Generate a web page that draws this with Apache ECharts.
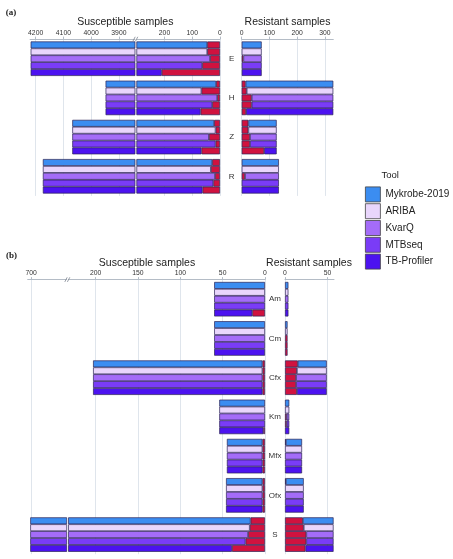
<!DOCTYPE html>
<html><head><meta charset="utf-8">
<script src="https://cdn.jsdelivr.net/npm/echarts@6/dist/echarts.min.js"></script>
<style>html,body{margin:0;padding:0;background:#fff}#c{width:453px;height:559px}</style>
</head><body><div id="c"></div>
<script>
// ---------- data ----------
const tools = ['Mykrobe-2019', 'ARIBA', 'KvarQ', 'MTBseq', 'TB-Profiler'];

const drugsA = ['E', 'H', 'Z', 'R'];
const suscTotalA = [4218, 3948, 4068, 4174];
const suscWrongA = [[46, 46, 36, 64, 210], [14, 67, 10, 28, 70], [21, 16, 40, 16, 67], [28, 33, 18, 24, 63]];
const resTotalA = [72, 330, 126, 134];
const resWrongA = [[0, 0, 6, 0, 0], [14, 18, 36, 36, 16], [24, 24, 30, 30, 81], [0, 0, 12, 0, 0]];

const drugsB = ['Am', 'Cm', 'Cfx', 'Km', 'Mfx', 'Ofx', 'S'];
const suscTotalB = [60, 60, 203, 54, 45, 46, 701];
const suscWrongB = [[0, 0, 0, 0, 15], [0, 0, 0, 0, 0], [3, 3, 3, 3, 3], [0, 0, 0, 0, 2], [3, 3, 3, 3, 3], [3, 3, 3, 3, 3], [17, 18, 20, 23, 39]];
const resTotalB = [4, 3, 49, 5, 20, 22, 57];
const resWrongB = [[0, 0, 0, 0, 0], [0, 0, 3, 3, 3], [15, 14, 13, 13, 14], [0, 0, 2, 2, 0], [1, 0, 0, 0, 0], [1, 0, 0, 0, 0], [21, 22, 25, 25, 24]];

const ticksA_suscHigh = [3900, 4000, 4100, 4200];
const ticksA_suscLow = [0, 100, 200];
const ticksA_res = [0, 100, 200, 300];
const ticksB_suscHigh = [700];
const ticksB_suscLow = [0, 50, 100, 150, 200];
const ticksB_res = [0, 50];

// ---------- styles ----------
const toolColors = ['#3b8df1', '#e9d6fc', '#a46cf8', '#7a3cf7', '#4c12f0'];
const wrongColor = '#d0123f';
const borderCol = '#2c2456';
const FONT = '"Liberation Sans", Arial, sans-serif';
const gridLineCol = '#dfe5ec';
const axisLineCol = '#b4bcc6';

const A_TOP = 39.1, A_H = 156.8, B_TOP = 279.6, B_H = 274.6;
const grids = [
  {left: 30.1, width: 104.9, top: A_TOP, height: A_H, min: 3842, max: 4220, inv: true, ticks: ticksA_suscHigh, drugs: drugsA, tot: suscTotalA, wr: suscWrongA, cats: false},
  {left: 136.75, width: 83.25, top: A_TOP, height: A_H, min: 0, max: 300, inv: true, ticks: ticksA_suscLow, drugs: drugsA, tot: suscTotalA, wr: suscWrongA, cats: false},
  {left: 241.7, width: 91.6, top: A_TOP, height: A_H, min: 0, max: 330, inv: false, ticks: ticksA_res, drugs: drugsA, tot: resTotalA, wr: resWrongA, cats: true},
  {left: 27.7, width: 39, top: B_TOP, height: B_H, min: 658, max: 704, inv: true, ticks: ticksB_suscHigh, drugs: drugsB, tot: suscTotalB, wr: suscWrongB, cats: false},
  {left: 68.5, width: 196.5, top: B_TOP, height: B_H, min: 0, max: 232, inv: true, ticks: ticksB_suscLow, drugs: drugsB, tot: suscTotalB, wr: suscWrongB, cats: false},
  {left: 285, width: 49, top: B_TOP, height: B_H, min: 0, max: 57.5, inv: false, ticks: ticksB_res, drugs: drugsB, tot: resTotalB, wr: resWrongB, cats: true}
];

const gridOpt = [], xAxes = [], yAxes = [], series = [];
grids.forEach((g, gi) => {
  gridOpt.push({left: g.left, width: g.width, top: g.top, height: g.height, containLabel: false});
  xAxes.push({
    type: 'value', gridIndex: gi, position: 'top', min: g.min, max: g.max, inverse: g.inv,
    axisLine: {show: true, lineStyle: {color: axisLineCol, width: 1}},
    axisTick: {show: true, length: 2.5, customValues: g.ticks, lineStyle: {color: axisLineCol}},
    axisLabel: {show: true, customValues: g.ticks, margin: 2.5, fontSize: 6.8, color: '#333', fontFamily: FONT,
      formatter: v => String(v)},
    splitLine: {show: true, lineStyle: {color: gridLineCol, width: 1}}
  });
  yAxes.push({
    type: 'category', gridIndex: gi, data: g.drugs, inverse: true,
    axisLine: {show: false}, axisTick: {show: false}, splitLine: {show: false},
    axisLabel: {show: g.cats, margin: 10, align: 'center', fontSize: 8, color: '#333', fontFamily: FONT}
  });
  tools.forEach((t, ti) => {
    const stack = 'g' + gi + 't' + ti;
    const common = {type: 'bar', xAxisIndex: gi, yAxisIndex: gi, stack: stack, barGap: '0%', barCategoryGap: '12%', clip: true};
    series.push(Object.assign({}, common, {
      name: 'Incorrect',
      itemStyle: {color: wrongColor, borderColor: borderCol, borderWidth: 0.7},
      data: g.drugs.map((d, di) => g.wr[di][ti] > 0 ? g.wr[di][ti] : '-')
    }));
    series.push(Object.assign({}, common, {
      name: t,
      itemStyle: {color: toolColors[ti], borderColor: borderCol, borderWidth: 0.7},
      data: g.drugs.map((d, di) => {
        const v = g.tot[di] - g.wr[di][ti];
        return v > 0 ? v : '-';
      })
    }));
  });
});

function txt(x, y, s, font, align) {
  return {type: 'text', x: x, y: y, silent: true, z: 100,
    style: {text: s, font: font, fill: '#222', align: align || 'center', verticalAlign: 'middle', textAlign: align || 'center', textVerticalAlign: 'middle'}};
}
function slashes(x, y) {
  const st = {stroke: '#7d8590', lineWidth: 0.8};
  return [
    {type: 'line', silent: true, z: 100, shape: {x1: x - 3.2, y1: y + 2.3, x2: x - 0.8, y2: y - 2.3}, style: st},
    {type: 'line', silent: true, z: 100, shape: {x1: x - 0.6, y1: y + 2.3, x2: x + 1.8, y2: y - 2.3}, style: st}
  ];
}

const graphics = [
  txt(11, 12.5, '(a)', 'bold 9px "Liberation Serif", serif'),
  txt(11.5, 256, '(b)', 'bold 9px "Liberation Serif", serif'),
  txt(125.3, 22.5, 'Susceptible samples', '10.5px ' + FONT),
  txt(287.5, 22.5, 'Resistant samples', '10.5px ' + FONT),
  txt(147, 263.3, 'Susceptible samples', '10.5px ' + FONT),
  txt(309, 263.3, 'Resistant samples', '10.5px ' + FONT),
  txt(381.5, 175, 'Tool', '9.5px ' + FONT, 'left')
].concat(slashes(136, 39.1), slashes(68, 279.6));

const chart = echarts.init(document.getElementById('c'), null, {renderer: 'canvas'});
chart.setOption({
  animation: false,
  backgroundColor: '#fff',
  grid: gridOpt,
  xAxis: xAxes,
  yAxis: yAxes,
  legend: {
    data: tools, orient: 'vertical', left: 365, top: 186.5, padding: 0,
    itemWidth: 15, itemHeight: 15, itemGap: 1, icon: 'rect',
    textStyle: {fontSize: 10, color: '#222', fontFamily: FONT},
    itemStyle: {borderColor: '#444', borderWidth: 0.8}
  },
  graphic: graphics,
  series: series
});
</script>
</body></html>
